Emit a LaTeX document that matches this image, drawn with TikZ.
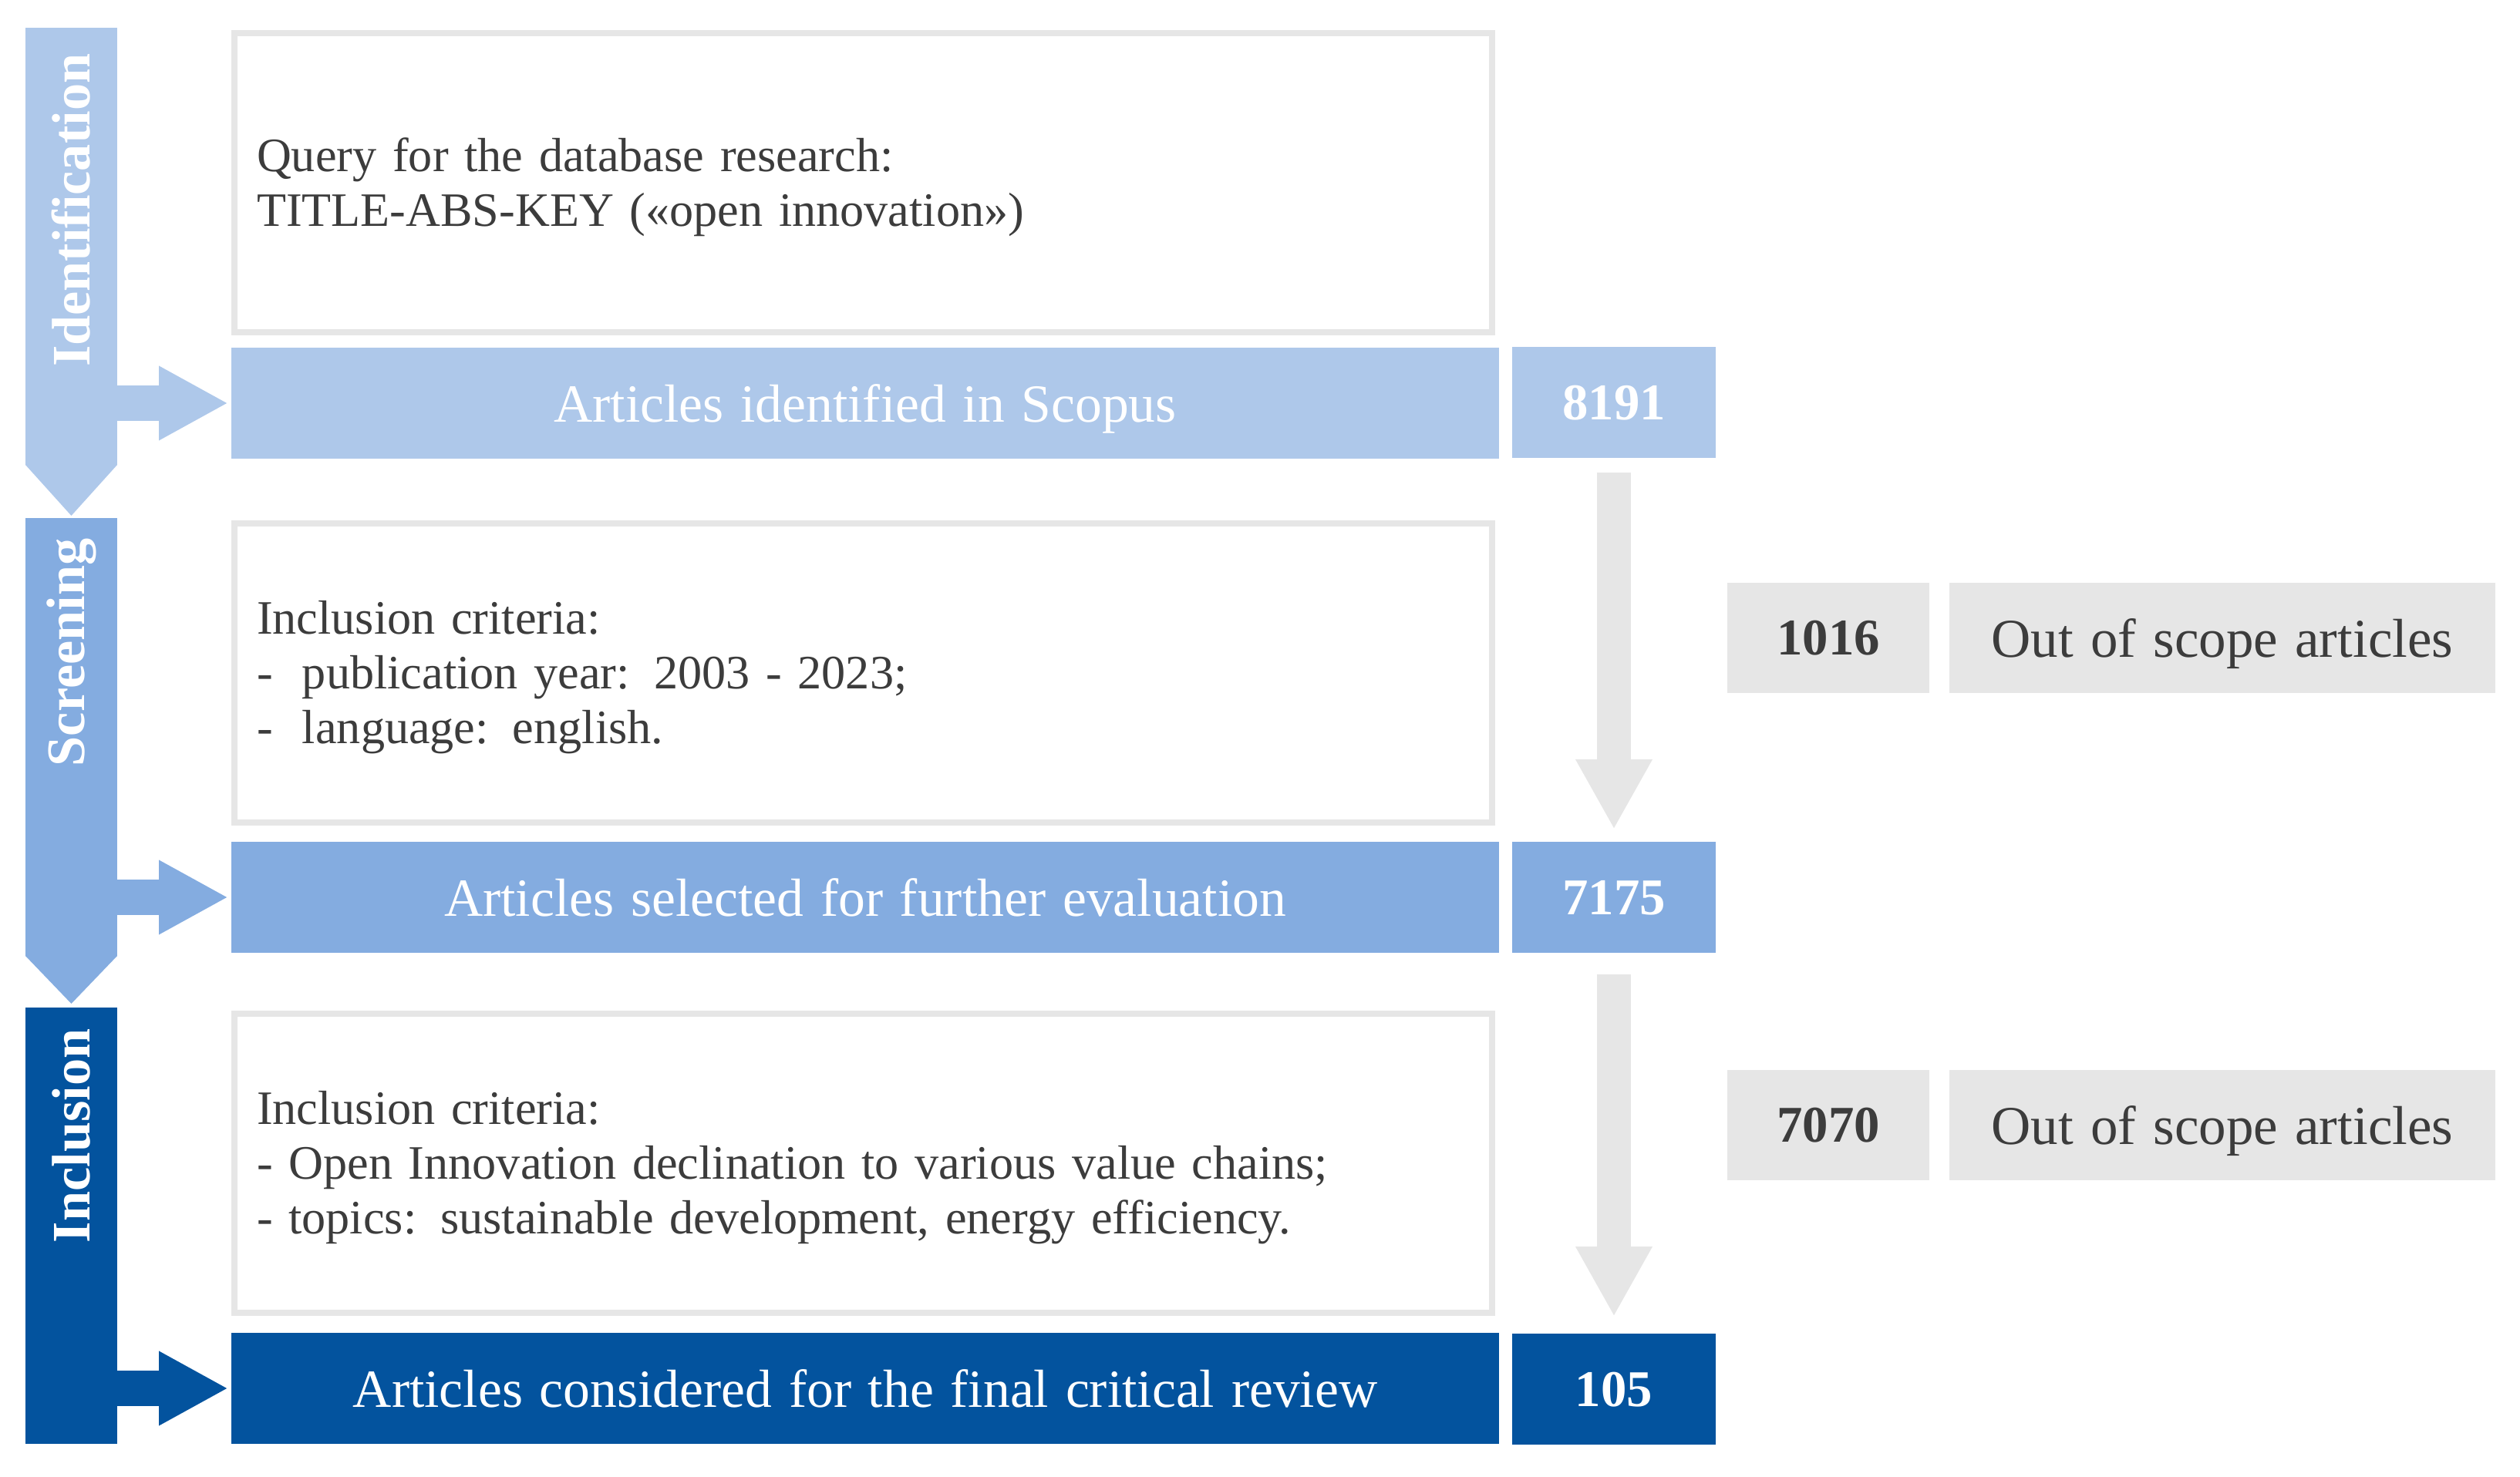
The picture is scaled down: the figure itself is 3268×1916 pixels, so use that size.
\documentclass[tikz,border=0pt]{standalone}
\usepackage{fontspec}
\setmainfont{Liberation Serif}
\newfontfamily\barfam[WordSpace=1.75]{Liberation Serif}
\newfontfamily\outfam[WordSpace=1.25]{Liberation Serif}
\usetikzlibrary{arrows.meta,calc}
\definecolor{lightb}{HTML}{AEC8EA}
\definecolor{midb}{HTML}{84ACE0}
\definecolor{darkb}{HTML}{03539E}
\definecolor{greyf}{HTML}{E6E6E6}
\definecolor{txt}{HTML}{3C3C3C}
\begin{document}
\begin{tikzpicture}[x=0.1mm,y=-0.1mm,
  crit/.style={draw=greyf, line width=0.8mm, fill=white, minimum width=163.1mm, minimum height=38.8mm,
    inner sep=0mm, outer sep=0mm},
  crittext/.style={anchor=west, text width=157.3mm, align=left, inner sep=0mm, outer sep=0mm,
    font=\fontsize{17.7}{20.2}\selectfont, text=txt},
  bar/.style={minimum width=164.4mm, minimum height=14.4mm, inner sep=0mm, outer sep=0mm, text=white,
    text depth=0pt, font=\barfam\fontsize{19.8}{22}\selectfont},
  numb/.style={minimum width=26.4mm, minimum height=14.4mm, inner sep=0mm, outer sep=0mm, text=white,
    text depth=0pt, font=\fontsize{19}{22}\selectfont\bfseries},
  outn/.style={fill=greyf, minimum width=26.2mm, minimum height=14.3mm, inner sep=0mm, outer sep=0mm, text=txt,
    text depth=0pt, font=\fontsize{19}{22}\selectfont\bfseries},
  outt/.style={fill=greyf, minimum width=70.8mm, minimum height=14.3mm, inner sep=0mm, outer sep=0mm, text=txt,
    text depth=0pt, font=\outfam\fontsize{20.2}{22}\selectfont},
  stage/.style={minimum width=11.9mm, inner sep=0mm, outer sep=0mm},
  stagelab/.style={rotate=90, anchor=east, inner sep=0mm, text=white, font=\fontsize{20}{22}\selectfont\bfseries},
  stagearrow/.style={line width=4.6mm, -{Triangle[width=9mm,length=9mm]}},
  greyarrow/.style={draw=greyf, line width=4.4mm, -{Triangle[width=9.3mm,length=9.1mm]}}
]
\useasboundingbox (0,0) rectangle (3268,1916);

% stage bars
\node[stage, fill=lightb, minimum height=56.7mm] (s1) at (92.5,319.5) {};
\fill[lightb] (s1.south west) -- (s1.south east) -- ($(s1.south)+(0,66)$) -- cycle;
\node[stage, fill=midb, minimum height=56.8mm] (s2) at (92.5,956) {};
\fill[midb] (s2.south west) -- (s2.south east) -- ($(s2.south)+(0,62)$) -- cycle;
\node[stage, fill=darkb, minimum height=56.6mm] (s3) at (92.5,1590) {};

\node[stagelab] (l1) at ($(s1.north)+(0,33)$) {Identification};
\node[stagelab] (l2) at ($(s2.north)+(0,26)$) {Screening};
\node[stagelab] (l3) at ($(s3.north)+(0,27)$) {Inclusion};

% criteria boxes
\node[crit] (q) at (1119.5,237) {};
\node[crittext] (qt) at ($(q.west)+(29,6)$) {Query for the database research:\\
TITLE-ABS-KEY («open innovation»)};
\node[crit] (sc) at (1119.5,873) {};
\node[crittext] (sct) at ($(sc.west)+(29,6)$) {Inclusion criteria:\\
\makebox[5.9mm][l]{-}publication year: 2003 - 2023;\\
\makebox[5.9mm][l]{-}language: english.};
\node[crit] (ic) at (1119.5,1509) {};
\node[crittext] (ict) at ($(ic.west)+(29,6)$) {Inclusion criteria:\\
- Open Innovation declination to various value chains;\\
- topics: sustainable development, energy efficiency.};

% result bars
\node[bar, fill=lightb] (b1) at (1122,523) {Articles identified in Scopus};
\node[bar, fill=midb] (b2) at (1122,1164) {Articles selected for further evaluation};
\node[bar, fill=darkb] (b3) at (1122,1801) {Articles considered for the final critical review};

\node[numb, fill=lightb] (n1) at (2093,522) {8191};
\node[numb, fill=midb] (n2) at (2093,1164) {7175};
\node[numb, fill=darkb] (n3) at (2093,1802) {105};

% out of scope
\node[outn] (o1n) at (2371,827.5) {1016};
\node[outt] (o1t) at (2882,827.5) {Out of scope articles};
\node[outn] (o2n) at (2371,1459.5) {7070};
\node[outt] (o2t) at (2882,1459.5) {Out of scope articles};

% arrows
\draw[stagearrow, lightb] ($(s1.east |- b1.west)+(-2,0)$) -- ($(b1.west)+(-4,0)$);
\draw[stagearrow, midb] ($(s2.east |- b2.west)+(-2,0)$) -- ($(b2.west)+(-4,0)$);
\draw[stagearrow, darkb] ($(s3.east |- b3.west)+(-2,0)$) -- ($(b3.west)+(-4,0)$);

\draw[greyarrow] ($(n1.south)+(0,19)$) -- ($(n2.north)+(0,-16)$);
\draw[greyarrow] ($(n2.south)+(0,28)$) -- ($(n3.north)+(0,-22)$);
\end{tikzpicture}
\end{document}
